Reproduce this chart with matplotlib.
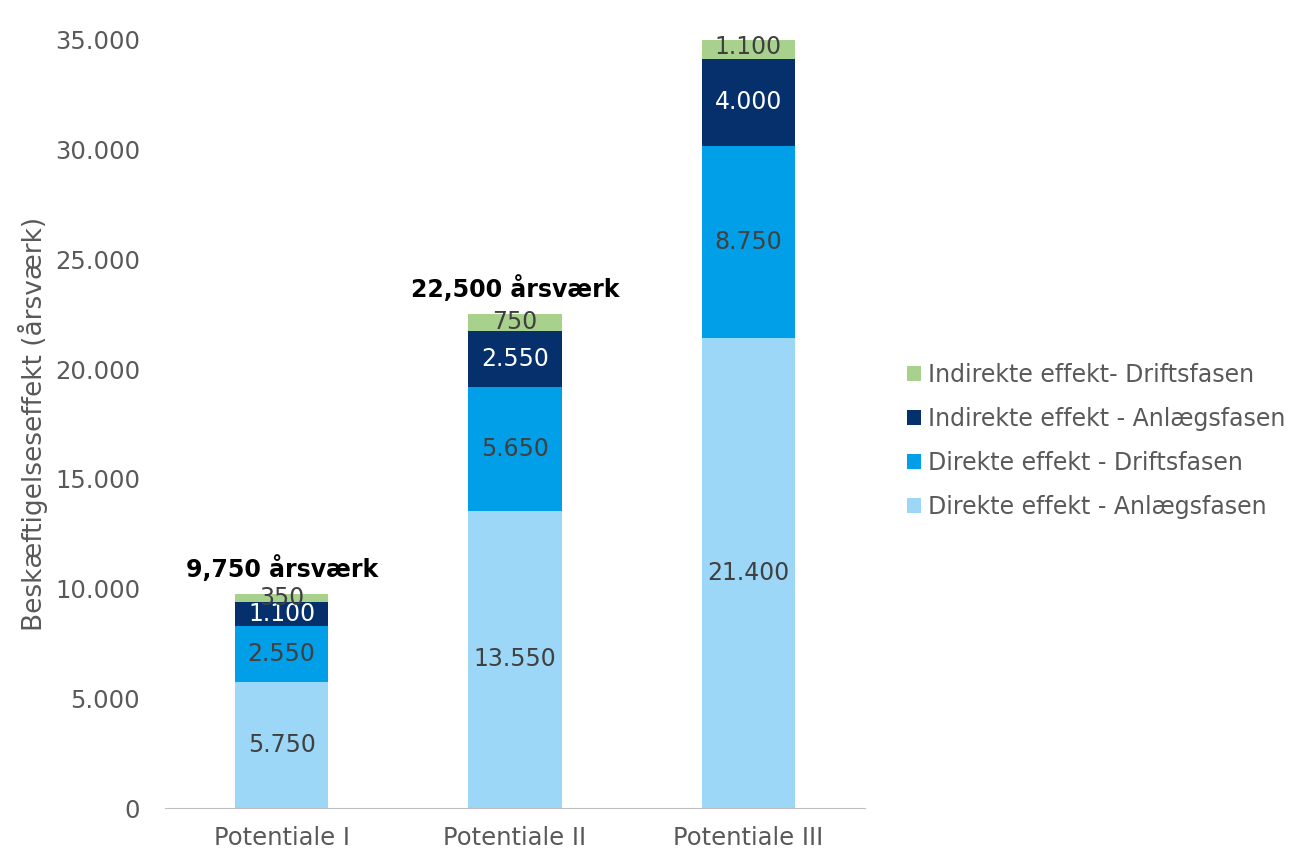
import matplotlib.pyplot as plt
import numpy as np

categories = ["Potentiale I", "Potentiale II", "Potentiale III"]
direkte_anlaeg = [5750, 13550, 21400]
direkte_drift = [2550, 5650, 8750]
indirekte_anlaeg = [1100, 2550, 4000]
indirekte_drift = [350, 750, 1100]
totals = ["9,750 årsværk", "22,500 årsværk", "35,250 årsværk"]

series = [
    ("Direkte effekt - Anlægsfasen", direkte_anlaeg, "#9dd7f7", "#404040"),
    ("Direkte effekt - Driftsfasen", direkte_drift, "#009fe8", "#404040"),
    ("Indirekte effekt - Anlægsfasen", indirekte_anlaeg, "#05306b", "white"),
    ("Indirekte effekt- Driftsfasen", indirekte_drift, "#a9d18e", "#404040"),
]

plt.rcParams["font.family"] = ["DejaVu Sans"]
grey = "#595959"

fig = plt.figure(figsize=(12.99, 8.5), dpi=100)
ax = fig.add_axes([0.127, 0.0494, 0.539, 0.9036])

x = np.arange(len(categories))
bottom = np.zeros(len(categories))
for name, vals, color, tcol in series:
    bars = ax.bar(x, vals, 0.4, bottom=bottom, color=color, label=name)
    for xi, b, v in zip(x, bottom, vals):
        ax.text(xi, b + v / 2, f"{v:,}".replace(",", "."), ha="center", va="center",
                fontsize=17, color=tcol)
    bottom = bottom + np.array(vals)

for xi, top, lab in zip(x, bottom, totals):
    ax.annotate(lab, (xi, top), xytext=(0, 9), textcoords="offset points",
                ha="center", va="bottom", fontsize=17, fontweight="bold", color="black")

ax.set_xlim(-0.5, 2.5)
ax.set_ylim(0, 35000)
ax.set_yticks(np.arange(0, 35001, 5000))
ax.set_yticklabels([f"{v:,}".replace(",", ".") for v in range(0, 35001, 5000)])
ax.set_xticks(x)
ax.set_xticklabels(categories)
ax.tick_params(axis="both", length=0, labelsize=17.5, labelcolor=grey)
ax.tick_params(axis="x", pad=13)
ax.tick_params(axis="y", pad=18)
for s in ["top", "right", "left"]:
    ax.spines[s].set_visible(False)
ax.spines["bottom"].set_color("#bfbfbf")
ax.set_ylabel("Beskæftigelseseffekt (årsværk)", fontsize=19, color=grey, labelpad=5)

handles, labels = ax.get_legend_handles_labels()
fig.legend(handles[::-1], labels[::-1], loc="center left", bbox_to_anchor=(0.698, 0.481),
           frameon=False, fontsize=17, labelcolor=grey, handlelength=0.6,
           handleheight=0.6, handletextpad=0.3, labelspacing=0.85, borderpad=0,
           borderaxespad=0)

fig.savefig("out.png", dpi=100)
